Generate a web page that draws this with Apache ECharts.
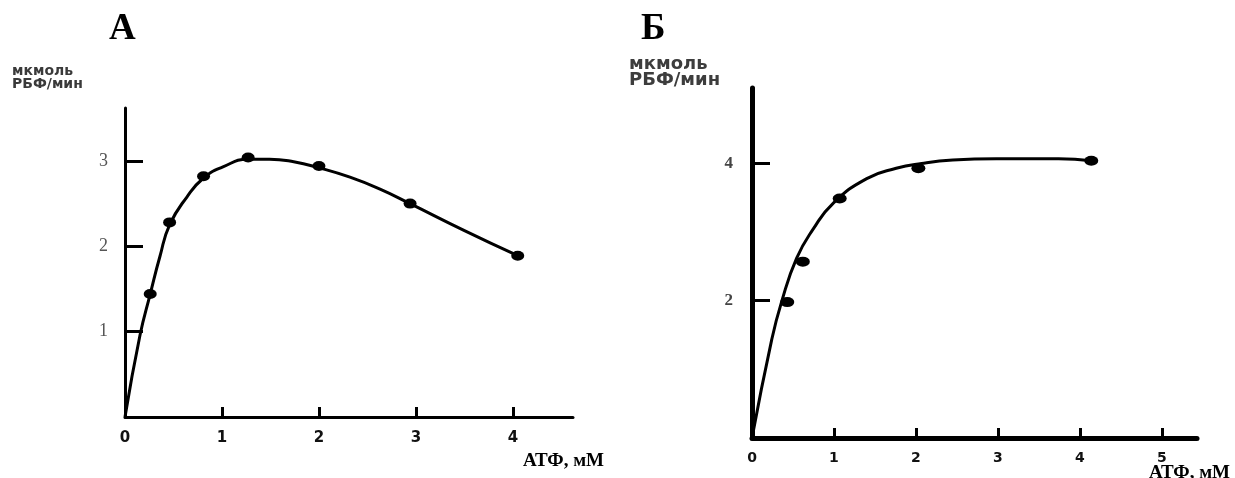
<!DOCTYPE html>
<html>
<head>
<meta charset="utf-8">
<script src="https://cdn.jsdelivr.net/npm/echarts@6/dist/echarts.min.js"></script>
<style>html,body{margin:0;padding:0;background:#fff;}#c{width:1235px;height:478px;}</style>
</head>
<body>
<div id="c"></div>
<script>
const leftX = [0.26, 0.46, 0.81, 1.27, 2.0, 2.94, 4.05];
const leftY = [1.44, 2.28, 2.82, 3.04, 2.94, 2.50, 1.89];
const leftCurveX = [0, 0.155, 0.26, 0.36, 0.46, 0.64, 0.81, 1.01, 1.27, 1.49, 1.74, 2.0, 2.32, 2.63, 2.94, 3.49, 4.05];
const leftCurveY = [0, 0.96, 1.44, 1.88, 2.25, 2.58, 2.80, 2.93, 3.02, 3.02, 2.99, 2.92, 2.81, 2.67, 2.50, 2.19, 1.89];
const leftXTicks = [0, 1, 2, 3, 4];
const leftYTicks = [1, 2, 3];

// Panel Б
const rightX = [0.43, 0.62, 1.07, 2.03, 4.14];
const rightY = [1.98, 2.57, 3.49, 3.93, 4.04];
const rightCurveX = [0, 0.24, 0.36, 0.545, 0.75, 0.99, 1.40, 1.76, 2.07, 2.45, 2.98, 3.74, 4.14];
const rightCurveY = [0, 1.43, 1.98, 2.62, 3.05, 3.42, 3.78, 3.93, 4.0, 4.05, 4.07, 4.07, 4.04];
const rightXTicks = [0, 1, 2, 3, 4, 5];
const rightYTicks = [2, 4];

const titleA = 'А';
const titleB = 'Б';
const yName = 'мкмоль\nРБФ/мин';
const xName = 'АТФ, мМ';

const zip = (a, b) => a.map((v, i) => [v, b[i]]);

const chart = echarts.init(document.getElementById('c'), null, {renderer: 'canvas'});

function xAxisCfg(idx, max, ticks, w, tickW, margin, fs) {
  return {
    type: 'value', gridIndex: idx, min: 0, max: max,
    splitLine: {show: false},
    axisLine: {show: true, onZero: false, lineStyle: {color: '#000', width: w}},
    axisTick: {show: true, inside: true, length: 10, lineStyle: {color: '#000', width: tickW},
      customValues: ticks.filter(v => v > 0)},
    axisLabel: {show: true, customValues: ticks, margin: margin,
      fontFamily: 'DejaVu Sans', fontWeight: 'bold', fontSize: fs, color: '#111'}
  };
}
function yAxisCfg(idx, max, ticks, w, labelStyle, margin) {
  return {
    type: 'value', gridIndex: idx, min: 0, max: max,
    splitLine: {show: false},
    axisLine: {show: true, onZero: false, lineStyle: {color: '#000', width: w}},
    axisTick: {show: true, inside: true, length: 18, lineStyle: {color: '#000', width: 3},
      customValues: ticks},
    axisLabel: Object.assign({show: true, customValues: ticks, margin: margin}, labelStyle)
  };
}

chart.setOption({
  animation: false,
  backgroundColor: '#fff',
  title: [
    {text: titleA, left: 104, top: 6, textStyle: {fontFamily: 'Liberation Serif', fontWeight: 'bold', fontSize: 37, color: '#000'}},
    {text: titleB, left: 636, top: 6, textStyle: {fontFamily: 'Liberation Serif', fontWeight: 'bold', fontSize: 37, color: '#000'}},
    {text: yName, left: 7, top: 60, textStyle: {fontFamily: 'DejaVu Sans', fontWeight: 'bold', fontSize: 14, lineHeight: 13, color: '#3a3a3a'}},
    {text: yName, left: 624, top: 51, textStyle: {fontFamily: 'DejaVu Sans', fontWeight: 'bold', fontSize: 18, lineHeight: 16, color: '#3d3d3d'}},
    {text: xName, left: 518, top: 447, textStyle: {fontFamily: 'Liberation Serif', fontWeight: 'bold', fontSize: 19, color: '#000'}},
    {text: xName, left: 1144, top: 459, textStyle: {fontFamily: 'Liberation Serif', fontWeight: 'bold', fontSize: 19, color: '#000'}}
  ],
  grid: [
    {left: 125, top: 108, width: 448, height: 309},
    {left: 752, top: 88, width: 445, height: 350}
  ],
  xAxis: [
    xAxisCfg(0, 4.62, leftXTicks, 3, 3, 14, 15),
    xAxisCfg(1, 5.43, rightXTicks, 5, 3, 13, 14)
  ],
  yAxis: [
    yAxisCfg(0, 3.62, leftYTicks, 3, {fontFamily: 'Liberation Serif', fontSize: 18, color: '#555'}, 17),
    yAxisCfg(1, 5.1, rightYTicks, 5, {fontFamily: 'Liberation Serif', fontWeight: 'bold', fontSize: 17, color: '#444'}, 19)
  ],
  series: [
    {type: 'line', xAxisIndex: 0, yAxisIndex: 0, data: zip(leftCurveX, leftCurveY), smooth: 0.5,
      showSymbol: false, symbol: 'none', lineStyle: {color: '#000', width: 3}, z: 2},
    {type: 'scatter', xAxisIndex: 0, yAxisIndex: 0, data: zip(leftX, leftY), symbol: 'circle',
      symbolSize: [13, 10], itemStyle: {color: '#000', opacity: 1}, z: 3},
    {type: 'line', xAxisIndex: 1, yAxisIndex: 1, data: zip(rightCurveX, rightCurveY), smooth: 0.5,
      showSymbol: false, symbol: 'none', lineStyle: {color: '#000', width: 3}, z: 2},
    {type: 'scatter', xAxisIndex: 1, yAxisIndex: 1, data: zip(rightX, rightY), symbol: 'circle',
      symbolSize: [14, 10], itemStyle: {color: '#000', opacity: 1}, z: 3}
  ]
});
</script>
</body>
</html>
